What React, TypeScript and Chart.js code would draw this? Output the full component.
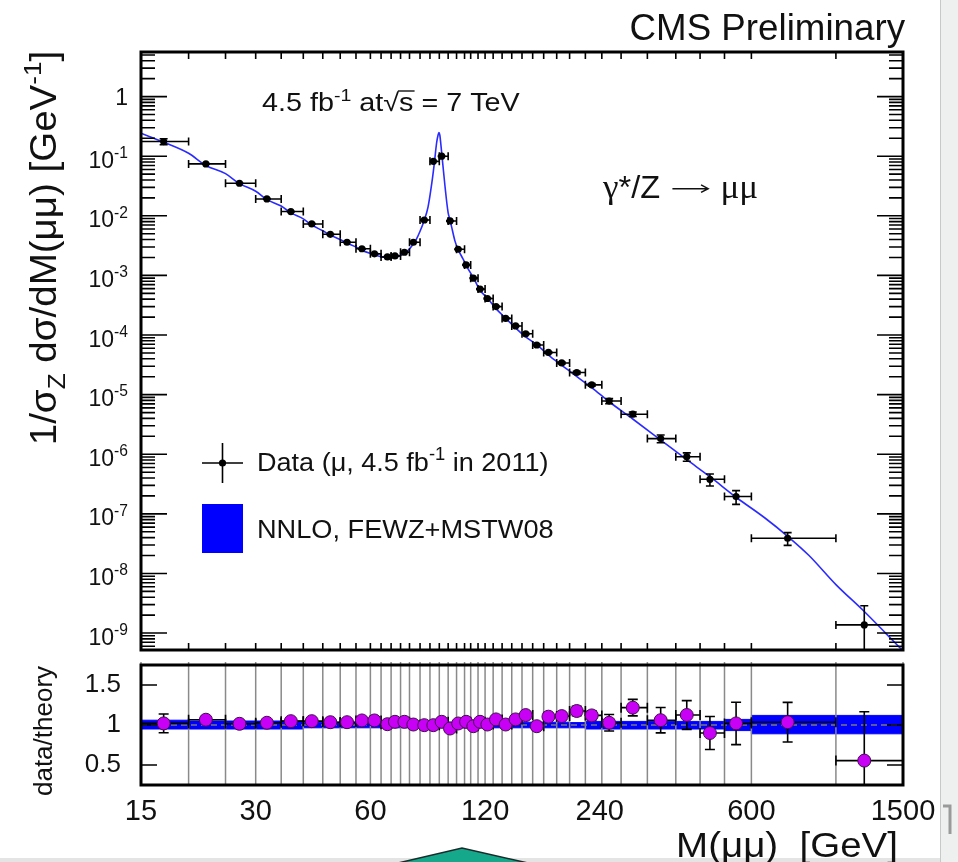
import React, { useEffect, useRef } from 'react';
import { Chart, registerables } from 'chart.js';

Chart.register(...registerables);

const SANS = "'Liberation Sans', Arial, Helvetica, sans-serif";
const SERIF = "'Liberation Serif', 'Times New Roman', serif";
const INK = '#111111';

// ---- bins (GeV) ----
const binEdges = [15, 20, 25, 30, 35, 40, 45, 50, 55, 60, 64, 68, 72, 76, 81, 86, 91, 96, 101, 106, 110, 115, 120, 126, 133, 141, 150, 160, 171, 185, 200, 220, 243, 273, 320, 380, 440, 510, 600, 1000, 1500];

// ---- data points ----
const dataMass = [17.2, 22.2, 27.2, 32.1, 37.1, 42.1, 47.1, 52.1, 57.0, 61.5, 66.5, 69.6, 73.7, 77.8, 83.1, 87.8, 92.3, 97.1, 102, 107, 111.8, 116.4, 121.7, 128.2, 135.9, 144.3, 153.4, 164, 176, 190.7, 208.8, 228.6, 254, 293, 346.8, 406, 467, 547, 747, 1187];
const dataValue = [0.176, 0.0743, 0.0352, 0.0192, 0.0118, 0.0073, 0.0049, 0.0036, 0.0028, 0.0023, 0.00204, 0.00212, 0.00245, 0.0036, 0.0085, 0.082, 0.1, 0.0082, 0.00275, 0.0015, 0.0009, 0.00059, 0.00041, 0.0003, 0.00019, 0.000142, 0.000105, 0.000068, 0.000051, 0.000034, 0.0000235, 0.0000146, 0.0000078, 0.0000047, 0.00000183, 9.1e-7, 3.8e-7, 1.95e-7, 3.9e-8, 1.37e-9];
const dataRatio = [1.02, 1.066, 1.015, 1.028, 1.048, 1.048, 1.035, 1.035, 1.057, 1.057, 1.01, 1.04, 1.04, 1.006, 0.998, 0.998, 1.04, 0.956, 1.019, 1.04, 0.985, 1.04, 1.006, 1.07, 1.006, 1.07, 1.124, 0.985, 1.104, 1.111, 1.175, 1.12, 1.028, 1.217, 1.06, 1.125, 0.9, 1.02, 1.035, 0.555];
const dataRelErr = [0.115, 0.012, 0.012, 0.012, 0.012, 0.012, 0.012, 0.012, 0.012, 0.012, 0.012, 0.012, 0.012, 0.012, 0.01, 0.006, 0.006, 0.01, 0.012, 0.012, 0.015, 0.015, 0.015, 0.018, 0.02, 0.02, 0.022, 0.025, 0.03, 0.035, 0.05, 0.05, 0.1, 0.085, 0.15, 0.16, 0.23, 0.26, 0.24, 1.1];

// ---- NNLO theory curve ----
const theoryMass = [15, 17.2, 20, 22.2, 25, 27.2, 30, 32.1, 35, 37.1, 40, 42.1, 45, 47.1, 50, 52.1, 55, 57, 60, 63, 66, 69, 72, 75, 77, 79, 81, 83, 85, 87, 88.3, 89.5, 90.3, 90.8, 91.3, 91.8, 92.9, 94.2, 96, 97.1, 98, 100, 102, 105, 108, 112, 116, 122, 128, 136, 144, 153, 164, 176, 191, 209, 229, 254, 293, 347, 406, 467, 547, 650, 747, 850, 1000, 1187, 1350, 1500];
const theoryValue = [0.243, 0.172, 0.112, 0.07, 0.051, 0.0347, 0.0258, 0.0187, 0.0146, 0.0112, 0.0089, 0.007, 0.0056, 0.00474, 0.004, 0.00348, 0.003, 0.00264, 0.00233, 0.00212, 0.002, 0.002, 0.00216, 0.00256, 0.0031, 0.0039, 0.0055, 0.0083, 0.014, 0.036, 0.076, 0.165, 0.225, 0.249, 0.225, 0.165, 0.076, 0.031, 0.0112, 0.0086, 0.0066, 0.0038, 0.0027, 0.0019, 0.00132, 0.00091, 0.00058, 0.00041, 0.00028, 0.00019, 0.000133, 0.000094, 0.000069, 0.000046, 0.000031, 0.00002, 0.000013, 0.0000076, 0.0000039, 0.00000173, 8.1e-7, 4.2e-7, 1.9e-7, 8.6e-8, 4.2e-8, 2.0e-8, 6.5e-9, 2.3e-9, 1.0e-9, 5.0e-10];

// ---- theory uncertainty band in ratio (per bin) ----
const bandLow = [0.95, 0.95, 0.95, 0.95, 0.95, 0.95, 0.965, 0.965, 0.965, 0.965, 0.965, 0.965, 0.965, 0.965, 0.965, 0.965, 0.965, 0.965, 0.965, 0.965, 0.965, 0.965, 0.965, 0.965, 0.965, 0.965, 0.965, 0.965, 0.965, 0.965, 0.965, 0.965, 0.95, 0.95, 0.95, 0.95, 0.95, 0.95, 0.93, 0.89];
const bandHigh = [1.07, 1.06, 1.05, 1.05, 1.05, 1.05, 1.035, 1.035, 1.035, 1.035, 1.035, 1.035, 1.035, 1.035, 1.035, 1.035, 1.035, 1.035, 1.035, 1.035, 1.035, 1.035, 1.035, 1.035, 1.035, 1.035, 1.035, 1.035, 1.035, 1.035, 1.035, 1.03, 1.045, 1.045, 1.045, 1.045, 1.045, 1.045, 1.07, 1.12];

// ---- axis ticks ----
const xTickLabels = [15, 30, 60, 120, 240, 600, 1500];
const yDecadeExponents = [0, -1, -2, -3, -4, -5, -6, -7, -8, -9];
const ratioTicks = [0.5, 1, 1.5];

type Seg = { t: string; k?: 'sup' | 'sub'; over?: boolean; fam?: string; scale?: number; dy?: number; arrow?: number };

function drawRich(ctx: CanvasRenderingContext2D, segs: Seg[], x: number, y: number, size: number, align: 'left' | 'right' | 'center' = 'left', sx = 1) {
  const parts = segs.map((s) => {
    const fs = size * (s.scale ?? (s.k ? 0.68 : 1));
    const font = `${fs}px ${s.fam ?? SANS}`;
    ctx.font = font;
    const w = s.arrow ? s.arrow * size : ctx.measureText(s.t).width;
    const dy = (s.k === 'sup' ? -size * 0.42 : s.k === 'sub' ? size * 0.24 : 0) + (s.dy ?? 0);
    return { s, font, w, dy };
  });
  const total = parts.reduce((a, p) => a + p.w, 0) * sx;
  const x0 = align === 'left' ? x : align === 'right' ? x - total : x - total / 2;
  ctx.save();
  ctx.translate(x0, y);
  ctx.scale(sx, 1);
  ctx.textAlign = 'left';
  ctx.textBaseline = 'alphabetic';
  let cx = 0;
  for (const p of parts) {
    if (p.s.arrow) {
      const ay = -size * 0.3;
      const hx = size * 0.22;
      ctx.beginPath();
      ctx.lineWidth = Math.max(1, size / 22);
      ctx.moveTo(cx + size * 0.1, ay);
      ctx.lineTo(cx + p.w - size * 0.1, ay);
      ctx.moveTo(cx + p.w - size * 0.1 - hx, ay - hx * 0.55);
      ctx.lineTo(cx + p.w - size * 0.1, ay);
      ctx.lineTo(cx + p.w - size * 0.1 - hx, ay + hx * 0.55);
      ctx.stroke();
    } else {
      ctx.font = p.font;
      ctx.fillText(p.s.t, cx, p.dy);
      if (p.s.over) {
        ctx.beginPath();
        ctx.lineWidth = Math.max(1, size / 18);
        const oy = -size * 0.8;
        ctx.moveTo(cx - 1, oy);
        ctx.lineTo(cx + p.w + 1, oy);
        ctx.stroke();
      }
    }
    cx += p.w;
  }
  ctx.restore();
  return total;
}

function drawErrorBars(chart: any, values: number[], cap: number, lw: number) {
  const { ctx, chartArea: a, scales } = chart;
  const x = scales.x;
  const y = scales.y;
  const isLog = y.type === 'logarithmic';
  ctx.save();
  ctx.beginPath();
  ctx.rect(a.left, a.top, a.right - a.left, a.bottom - a.top);
  ctx.clip();
  ctx.strokeStyle = '#000';
  ctx.lineWidth = lw;
  for (let i = 0; i < values.length; i++) {
    const v = values[i];
    const px = x.getPixelForValue(dataMass[i]);
    const py = y.getPixelForValue(v);
    const xl = x.getPixelForValue(binEdges[i]);
    const xr = x.getPixelForValue(binEdges[i + 1]);
    const up = v * (1 + dataRelErr[i]);
    const dn = v * (1 - dataRelErr[i]);
    const pyu = y.getPixelForValue(up);
    const hasDn = !isLog || dn > 0;
    const pyd = hasDn ? y.getPixelForValue(dn) : a.bottom + 20;
    ctx.beginPath();
    ctx.moveTo(xl, py); ctx.lineTo(xr, py);
    ctx.moveTo(xl, py - cap); ctx.lineTo(xl, py + cap);
    ctx.moveTo(xr, py - cap); ctx.lineTo(xr, py + cap);
    ctx.moveTo(px, pyu); ctx.lineTo(px, pyd);
    ctx.moveTo(px - cap, pyu); ctx.lineTo(px + cap, pyu);
    if (hasDn) { ctx.moveTo(px - cap, pyd); ctx.lineTo(px + cap, pyd); }
    ctx.stroke();
  }
  ctx.restore();
}

const upperDecor = {
  id: 'upperDecor',
  beforeDatasetDraw(chart: any, args: any) {
    if (args.index !== 1) return;
    drawErrorBars(chart, dataValue, 4, 1.6);
  },
  afterDraw(chart: any) {
    const { ctx, chartArea: a, scales } = chart;
    const x = scales.x;
    const y = scales.y;
    ctx.save();
    ctx.strokeStyle = '#000';
    ctx.fillStyle = INK;
    ctx.lineWidth = 1.6;
    ctx.beginPath();
    for (let e = -10; e <= 0; e++) {
      for (let k = 1; k <= 9; k++) {
        const v = k * Math.pow(10, e);
        if (v < y.min || v > y.max) continue;
        const py = y.getPixelForValue(v);
        const len = k === 1 ? 26 : 14;
        ctx.moveTo(a.left, py); ctx.lineTo(a.left + len, py);
        ctx.moveTo(a.right, py); ctx.lineTo(a.right - len, py);
      }
    }
    for (const e of binEdges) {
      const px = x.getPixelForValue(e);
      ctx.moveTo(px, a.top); ctx.lineTo(px, a.top + 7);
      ctx.moveTo(px, a.bottom); ctx.lineTo(px, a.bottom - 7);
    }
    ctx.stroke();
    ctx.lineWidth = 3;
    ctx.strokeRect(a.left, a.top, a.right - a.left, a.bottom - a.top);

    for (const ex of yDecadeExponents) {
      const py = y.getPixelForValue(Math.pow(10, ex));
      if (ex === 0) drawRich(ctx, [{ t: '1' }], 128, py + 8.3, 23, 'right');
      else drawRich(ctx, [{ t: '10' }, { t: String(ex), k: 'sup' }], 128, py + 11.5, 23, 'right');
    }

    ctx.save();
    ctx.translate(56, 248);
    ctx.rotate(-Math.PI / 2);
    drawRich(ctx, [{ t: '1/σ' }, { t: 'Z', k: 'sub' }, { t: ' dσ/dM(μμ) [GeV' }, { t: '-1', k: 'sup' }, { t: ']' }], 0, 0, 36, 'center', 1.07);
    ctx.restore();

    drawRich(ctx, [{ t: 'CMS Preliminary' }], 905, 40, 36, 'right', 1.02);
    ctx.strokeStyle = INK;
    drawRich(ctx, [{ t: '4.5 fb' }, { t: '-1', k: 'sup' }, { t: ' at' }, { t: '√' }, { t: 's', over: true }, { t: ' = 7 TeV' }], 262, 111, 25, 'left', 1.15);
    drawRich(ctx, [{ t: 'γ', fam: SERIF, scale: 1.08 }, { t: '*/Z', fam: SANS }, { t: ' ', fam: SANS }, { t: '', arrow: 1.3 }, { t: ' ', fam: SANS }, { t: 'μμ', fam: SERIF, scale: 1.08 }], 603, 198, 31, 'left', 1.05);

    ctx.strokeStyle = '#000';
    ctx.lineWidth = 1.6;
    ctx.beginPath();
    ctx.moveTo(202, 463); ctx.lineTo(243, 463);
    ctx.moveTo(222.5, 443); ctx.lineTo(222.5, 483);
    ctx.stroke();
    ctx.fillStyle = '#000';
    ctx.beginPath(); ctx.arc(222.5, 463, 3.6, 0, Math.PI * 2); ctx.fill();
    ctx.fillStyle = INK;
    drawRich(ctx, [{ t: 'Data (μ, 4.5 fb' }, { t: '-1', k: 'sup' }, { t: ' in 2011)' }], 257, 471, 26, 'left', 1.04);
    ctx.fillStyle = '#0000ff';
    ctx.fillRect(202, 504, 41, 49);
    ctx.fillStyle = INK;
    drawRich(ctx, [{ t: 'NNLO, FEWZ+MSTW08' }], 257, 538, 26, 'left', 1.045);
    ctx.restore();
  },
};

const lowerDecor = {
  id: 'lowerDecor',
  beforeDatasetDraw(chart: any, args: any) {
    const { ctx, chartArea: a, scales } = chart;
    if (args.index === 2) {
      ctx.save();
      ctx.strokeStyle = '#8a8a8a';
      ctx.lineWidth = 1.5;
      ctx.beginPath();
      for (const e of binEdges) {
        const px = scales.x.getPixelForValue(e);
        ctx.moveTo(px, a.top - 3); ctx.lineTo(px, a.bottom);
      }
      ctx.stroke();
      ctx.restore();
    }
    if (args.index === 3) drawErrorBars(chart, dataRatio, 5, 1.6);
  },
  afterDraw(chart: any) {
    const { ctx, chartArea: a, scales } = chart;
    const y = scales.y;
    ctx.save();
    ctx.strokeStyle = '#000';
    ctx.lineWidth = 1.6;
    ctx.beginPath();
    for (const t of ratioTicks) {
      const py = y.getPixelForValue(t);
      ctx.moveTo(a.left, py); ctx.lineTo(a.left + 16, py);
      ctx.moveTo(a.right, py); ctx.lineTo(a.right - 16, py);
    }
    ctx.stroke();
    ctx.lineWidth = 3;
    ctx.strokeRect(a.left, a.top, a.right - a.left, a.bottom - a.top);
    ctx.fillStyle = INK;
    ctx.save();
    ctx.translate(52, 731);
    ctx.rotate(-Math.PI / 2);
    drawRich(ctx, [{ t: 'data/theory' }], 0, 0, 26, 'center');
    ctx.restore();
    drawRich(ctx, [{ t: 'M(μμ)  [GeV]' }], 898, 857, 35, 'right', 1.1);
    ctx.restore();
  },
};

export default function App() {
  const topRef = useRef<HTMLCanvasElement>(null);
  const botRef = useRef<HTMLCanvasElement>(null);

  useEffect(() => {
    const upper = new Chart(topRef.current as HTMLCanvasElement, {
      type: 'line',
      data: {
        datasets: [
          {
            label: 'NNLO, FEWZ+MSTW08',
            data: theoryMass.map((m, i) => ({ x: m, y: theoryValue[i] })),
            borderColor: '#2b2bff',
            borderWidth: 1.6,
            pointRadius: 0,
            cubicInterpolationMode: 'monotone',
            fill: false,
            order: 2,
          },
          {
            label: 'Data',
            data: dataMass.map((m, i) => ({ x: m, y: dataValue[i] })),
            showLine: false,
            pointRadius: 3.6,
            pointBackgroundColor: '#000',
            pointBorderColor: '#000',
            pointBorderWidth: 0,
            order: 1,
          },
        ],
      },
      options: {
        responsive: false,
        animation: false,
        events: [],
        layout: { padding: { left: 141, top: 52, right: 55, bottom: 212 }, autoPadding: false },
        plugins: { legend: { display: false }, tooltip: { enabled: false } },
        scales: {
          x: { type: 'logarithmic', min: 15, max: 1500, display: false },
          y: { type: 'logarithmic', min: 5.2e-10, max: 5.6, display: false },
        },
      } as any,
      plugins: [upperDecor],
    } as any);

    const lower = new Chart(botRef.current as HTMLCanvasElement, {
      type: 'line',
      data: {
        datasets: [
          {
            label: 'band low',
            data: binEdges.map((e, i) => ({ x: e, y: bandLow[Math.min(i, bandLow.length - 1)] })),
            stepped: 'after',
            borderColor: '#0000ff',
            borderWidth: 1,
            pointRadius: 0,
            fill: false,
            order: 5,
          },
          {
            label: 'band high',
            data: binEdges.map((e, i) => ({ x: e, y: bandHigh[Math.min(i, bandHigh.length - 1)] })),
            stepped: 'after',
            borderColor: '#0000ff',
            borderWidth: 1,
            pointRadius: 0,
            fill: '-1',
            backgroundColor: '#0000ff',
            order: 4,
          },
          {
            label: 'unity',
            data: [{ x: 15, y: 1 }, { x: 1500, y: 1 }],
            borderColor: '#7a7a7a',
            borderWidth: 1.5,
            borderDash: [6, 4],
            pointRadius: 0,
            fill: false,
            order: 3,
          },
          {
            label: 'data/theory',
            data: dataMass.map((m, i) => ({ x: m, y: dataRatio[i] })),
            showLine: false,
            pointRadius: 6.5,
            pointBackgroundColor: '#c800f5',
            pointBorderColor: '#40104a',
            pointBorderWidth: 1,
            order: 1,
          },
        ],
      },
      options: {
        responsive: false,
        animation: false,
        events: [],
        layout: { padding: { left: 0, top: 665, right: 55, bottom: 0 }, autoPadding: false },
        plugins: { legend: { display: false }, tooltip: { enabled: false } },
        scales: {
          x: {
            type: 'logarithmic',
            min: 15,
            max: 1500,
            afterBuildTicks: (s: any) => { s.ticks = xTickLabels.map((v) => ({ value: v })); },
            afterFit: (s: any) => { s.height = 77; },
            ticks: {
              autoSkip: false,
              maxRotation: 0,
              minRotation: 0,
              padding: 2,
              color: INK,
              font: { family: SANS, size: 29 },
              callback: (v: any) => String(v),
            },
            grid: { display: false },
            border: { display: false },
          },
          y: {
            type: 'linear',
            min: 0.25,
            max: 1.75,
            afterBuildTicks: (s: any) => { s.ticks = ratioTicks.map((v) => ({ value: v })); },
            afterFit: (s: any) => { s.width = 141; },
            ticks: {
              padding: 12,
              color: INK,
              font: { family: SANS, size: 26 },
              callback: (v: any) => String(v),
            },
            grid: { display: false },
            border: { display: false },
          },
        },
      } as any,
      plugins: [lowerDecor],
    } as any);

    return () => {
      upper.destroy();
      lower.destroy();
    };
  }, []);

  return (
    <div style={{ position: 'fixed', left: 0, top: 0, width: 958, height: 862, background: '#ffffff', overflow: 'hidden' }}>
      <div style={{ position: 'absolute', left: 940, top: 0, width: 18, height: 862, background: '#eef0f0', borderLeft: '1px solid #c8c8c8' }} />
      <div style={{ position: 'absolute', left: 0, top: 858, width: 940, height: 4, background: '#e4e4e4' }} />
      <svg width={958} height={862} style={{ position: 'absolute', left: 0, top: 0 }}>
        <polygon points="398,863 462,848 528,863" fill="#16a88a" stroke="#1b2b2b" strokeWidth={1.5} />
        <polyline points="943,806 950,806 950,834" fill="none" stroke="#9a9a9a" strokeWidth={3} />
      </svg>
      <canvas ref={topRef} width={958} height={862} style={{ position: 'absolute', left: 0, top: 0, width: 958, height: 862 }} />
      <canvas ref={botRef} width={958} height={862} style={{ position: 'absolute', left: 0, top: 0, width: 958, height: 862 }} />
    </div>
  );
}
